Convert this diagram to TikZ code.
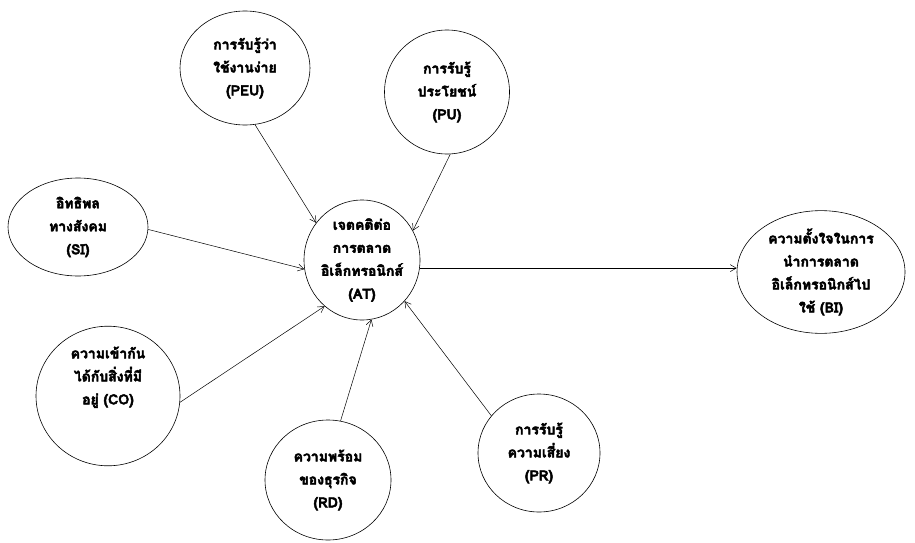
\documentclass[tikz,border=0pt]{standalone}
\usepackage{fontspec}
\newfontfamily\thai[Script=Thai]{Loma}
\newcommand{\heavytxt}{\special{pdf:literal direct 2 Tr 0.45 w}}
\newcommand{\plaintxt}{\special{pdf:literal direct 0 Tr}}
\usetikzlibrary{shapes.geometric,arrows.meta}
\begin{document}
\begin{tikzpicture}[x=1pt,y=-1pt,
  oval/.style={draw,ellipse,line width=0.6pt,inner sep=0pt,align=center,
    font=\thai\bfseries\fontsize{14}{23}\selectfont},
  link/.style={line width=0.5pt,-{Straight Barb[length=6pt,width=7pt]}}]
\useasboundingbox (0,0) rectangle (915,543);
\node[oval,minimum width=130,minimum height=114] (peu) at (245,68) {\heavytxt การรับรู้ว่า\\ใช้งานง่าย\\(PEU)\plaintxt};
\node[oval,minimum width=125,minimum height=124] (pu) at (447,92) {\heavytxt การรับรู้\\ประโยชน์\\(PU)\plaintxt};
\node[oval,minimum width=140,minimum height=98] (si) at (78,227) {\heavytxt อิทธิพล\\ทางสังคม\\(SI)\plaintxt};
\node[oval,minimum width=116,minimum height=120] (at) at (362,260) {\heavytxt เจตคติต่อ\\การตลาด\\อิเล็กทรอนิกส์\\(AT)\plaintxt};
\node[oval,minimum width=168,minimum height=116] (bi) at (821,272) {\heavytxt ความตั้งใจในการ\\นำการตลาด\\อิเล็กทรอนิกส์ไป\\ใช้ (BI)\plaintxt};
\node[oval,minimum width=144,minimum height=124] (co) at (108,396) {\heavytxt ความเข้ากัน\\ได้กับสิ่งที่มี\\อยู่ (CO)\plaintxt\\[18pt]};
\node[oval,minimum width=126,minimum height=120] (rd) at (328,480) {\heavytxt ความพร้อม\\ของธุรกิจ\\(RD)\plaintxt};
\node[oval,minimum width=122,minimum height=118] (pr) at (539,453) {\heavytxt การรับรู้\\ความเสี่ยง\\(PR)\plaintxt};
\draw[link] (peu.-80) -- (at.141);
\draw[link] (pu.-87) -- (at.30);
\draw[link] (si.-2) -- (at.189);
\draw[link] (at.-8) -- (at.-8 -| bi.west);
\draw[link] (co.-5) -- (at.-129);
\draw[link] (rd.78) -- (at.-81);
\draw[link] (pr.142) -- (at.-44);
\end{tikzpicture}
\end{document}
